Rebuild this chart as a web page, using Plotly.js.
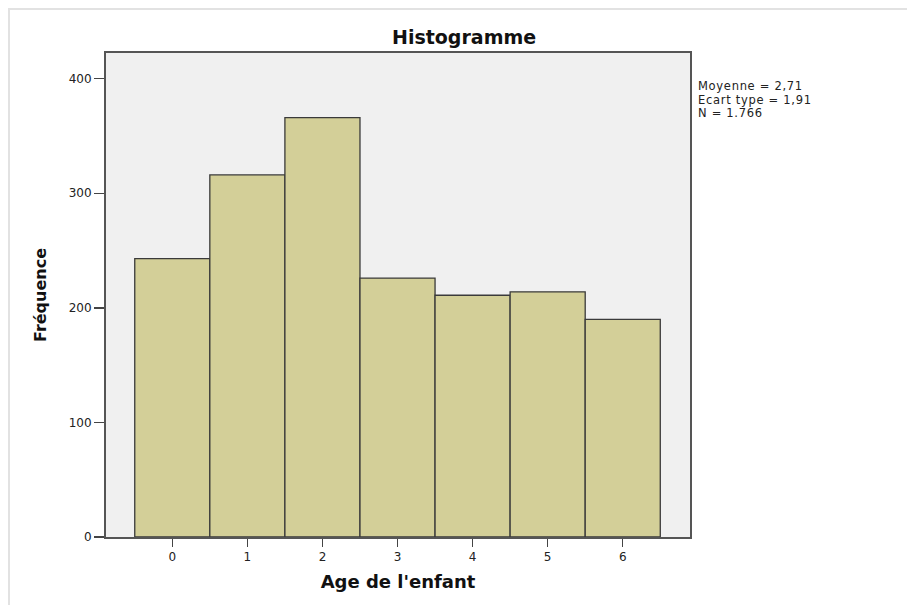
<!DOCTYPE html>
<html>
<head>
<meta charset="utf-8">
<script src="https://cdn.plot.ly/plotly-3.0.1.min.js"></script>
<style>
  html, body { margin: 0; padding: 0; background: #fff; }
  #wrap { position: relative; width: 907px; height: 605px; overflow: hidden; }
  #frame { position: absolute; left: 8px; top: 8px; width: 920px; height: 620px;
           border-left: 2px solid #e2e2e2; border-top: 2px solid #e2e2e2; box-sizing: border-box; }
  #chart { position: absolute; left: 0; top: 0; width: 907px; height: 605px; }
  .annotation[data-index="1"] .annotation-text,
  .annotation[data-index="2"] .annotation-text,
  .annotation[data-index="3"] .annotation-text { letter-spacing: 0.7px; }
</style>
</head>
<body>
<div id="wrap">
  <div id="frame"></div>
  <div id="chart"></div>
</div>
<script>
// Data
const ages = [0, 1, 2, 3, 4, 5, 6];
const frequencies = [243, 316, 366, 226, 211, 214, 190];
const yTicks = [0, 100, 200, 300, 400];
const xTickLabels = ['0', '1', '2', '3', '4', '5', '6'];
const statsLines = ['Moyenne = 2,71', 'Ecart type = 1,91', 'N = 1.766'];

const font = '"DejaVu Sans", Verdana, sans-serif';

const trace = {
  type: 'bar',
  x: ages,
  y: frequencies,
  width: 1,
  marker: { color: '#d3cf98', line: { color: '#3a3a3a', width: 1.3 } },
  hoverinfo: 'x+y'
};

const statsAnnotations = statsLines.map((line, i) => ({
  text: line, xref: 'paper', yref: 'paper',
  x: 1, xshift: 7, y: 1, yshift: -25 - 13.5 * i, xanchor: 'left', yanchor: 'top', align: 'left',
  borderpad: 0,
  showarrow: false, font: { size: 11.5, family: font, color: '#222' }
}));

const layout = {
  width: 907,
  height: 605,
  margin: { l: 106, r: 217, t: 53, b: 68, pad: 0 },
  paper_bgcolor: 'rgba(0,0,0,0)',
  plot_bgcolor: '#f0f0f0',
  showlegend: false,
  bargap: 0,
  font: { family: font, color: '#222' },
  xaxis: {
    range: [-0.883, 6.896],
    tickvals: ages,
    ticktext: xTickLabels,
    ticks: 'outside', ticklen: 8, tickwidth: 1.5, tickcolor: '#444',
    showline: true, linecolor: '#555', linewidth: 2, mirror: true,
    showgrid: false, zeroline: false,
    tickfont: { size: 12, color: '#222', family: font },
    title: { text: "Age de l'enfant", font: { size: 18, color: '#111', family: font, weight: 'bold' }, standoff: 12 }
  },
  yaxis: {
    range: [0, 422.4],
    tickvals: yTicks,
    ticks: 'outside', ticklen: 10, tickwidth: 1.5, tickcolor: '#444',
    showline: true, linecolor: '#555', linewidth: 2, mirror: true,
    showgrid: false, zeroline: false,
    tickfont: { size: 12, color: '#222', family: font },
    title: { text: 'Fréquence', font: { size: 16, color: '#111', family: font, weight: 'bold' }, standoff: 18 }
  },
  annotations: [
    {
      text: '<b>Histogramme</b>', xref: 'paper', yref: 'paper',
      x: (464 - 106) / 584, y: 1, yshift: 3, xanchor: 'center', yanchor: 'bottom',
      showarrow: false, font: { size: 19, family: font, color: '#111' }
    }
  ].concat(statsAnnotations)
};

Plotly.newPlot('chart', [trace], layout, { displayModeBar: false, staticPlot: true });
</script>
</body>
</html>
